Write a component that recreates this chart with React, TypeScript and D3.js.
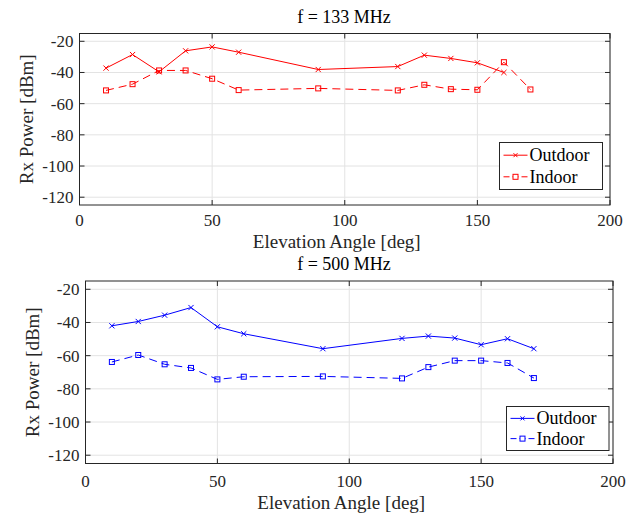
import React, { useEffect, useRef } from "react";
import * as d3 from "d3";

// elevation angles (deg)
const anglesOut133 = [10, 20, 30, 40, 50, 60, 90, 120, 130, 140, 150, 160];
const outdoor133 = [-37.2, -28.5, -39.6, -26.1, -23.6, -27, -38.1, -36.2, -28.9, -31, -33.8, -40];
const anglesIn133 = [10, 20, 30, 40, 50, 60, 90, 120, 130, 140, 150, 160, 170];
const indoor133 = [-51.5, -47.5, -38.7, -38.7, -44, -51.3, -50.2, -51.5, -47.9, -50.7, -51.1, -33.4, -50.9];

const angles500 = [10, 20, 30, 40, 50, 60, 90, 120, 130, 140, 150, 160, 170];
const outdoor500 = [-42, -39.4, -35.6, -31, -42.6, -46.8, -55.8, -49.6, -48.2, -49.4, -53.4, -49.8, -55.8];
const indoor500 = [-63.8, -59.6, -65.2, -67.4, -74.3, -72.7, -72.5, -73.7, -66.9, -63, -63, -64.4, -73.5];

const xTicks = [0, 50, 100, 150, 200];
const yTicks = [-120, -100, -80, -60, -40, -20];
const legendNames = ["Outdoor", "Indoor"];

const FONT = "'Liberation Serif', 'Times New Roman', 'DejaVu Serif', serif";

type Panel = {
  title: string;
  color: string;
  left: number;
  right: number;
  top: number;
  bottom: number;
  tickGap: number;
  labelGap: number;
  outX: number[];
  outY: number[];
  inX: number[];
  inY: number[];
  legend: { x: number; y: number; w: number; h: number };
};

const panels: Panel[] = [
  {
    title: "f = 133 MHz",
    color: "#ff0000",
    left: 79.5,
    right: 610,
    top: 33.5,
    bottom: 205,
    tickGap: 21,
    labelGap: 43,
    outX: anglesOut133,
    outY: outdoor133,
    inX: anglesIn133,
    inY: indoor133,
    legend: { x: 499.5, y: 142.5, w: 103, h: 47 },
  },
  {
    title: "f = 500 MHz",
    color: "#0000ff",
    left: 85.5,
    right: 613,
    top: 281,
    bottom: 463.5,
    tickGap: 23,
    labelGap: 45,
    outX: angles500,
    outY: outdoor500,
    inX: angles500,
    inY: indoor500,
    legend: { x: 506.5, y: 406.5, w: 102.5, h: 44 },
  },
];

export default function App() {
  const svgRef = useRef<SVGSVGElement>(null);

  useEffect(() => {
    const svg = d3.select(svgRef.current);
    svg.selectAll("*").remove();

    svg.append("rect").attr("width", 638).attr("height", 519).attr("fill", "#fff");

    panels.forEach((p) => {
      const x = d3.scaleLinear().domain([0, 200]).range([p.left, p.right]);
      const y = d3.scaleLinear().domain([-125, -15]).range([p.bottom, p.top]);
      const g = svg.append("g").style("font-family", FONT);

      // grid
      g.selectAll(".gx")
        .data(xTicks)
        .join("line")
        .attr("x1", (d) => x(d))
        .attr("x2", (d) => x(d))
        .attr("y1", p.top)
        .attr("y2", p.bottom)
        .attr("stroke", "#e3e3e3");
      g.selectAll(".gy")
        .data(yTicks)
        .join("line")
        .attr("y1", (d) => y(d))
        .attr("y2", (d) => y(d))
        .attr("x1", p.left)
        .attr("x2", p.right)
        .attr("stroke", "#e3e3e3");

      // lines
      const line = d3
        .line<[number, number]>()
        .x((d) => x(d[0]))
        .y((d) => y(d[1]));
      const outPts: [number, number][] = p.outX.map((a, i) => [a, p.outY[i]]);
      const inPts: [number, number][] = p.inX.map((a, i) => [a, p.inY[i]]);

      g.append("path")
        .attr("d", line(outPts))
        .attr("fill", "none")
        .attr("stroke", p.color)
        .attr("stroke-width", 1);
      g.append("path")
        .attr("d", line(inPts))
        .attr("fill", "none")
        .attr("stroke", p.color)
        .attr("stroke-width", 1)
        .attr("stroke-dasharray", "8,5");

      // markers
      const s = 2.6;
      g.selectAll(".mx")
        .data(outPts)
        .join("path")
        .attr("d", (d) => {
          const cx = x(d[0]);
          const cy = y(d[1]);
          return `M${cx - s},${cy - s}L${cx + s},${cy + s}M${cx - s},${cy + s}L${cx + s},${cy - s}`;
        })
        .attr("stroke", p.color)
        .attr("stroke-width", 1);
      g.selectAll(".ms")
        .data(inPts)
        .join("rect")
        .attr("x", (d) => x(d[0]) - 2.5)
        .attr("y", (d) => y(d[1]) - 2.5)
        .attr("width", 5)
        .attr("height", 5)
        .attr("fill", "none")
        .attr("stroke", p.color)
        .attr("stroke-width", 1);

      // box and inner ticks
      const axisColor = "#262626";
      g.append("rect")
        .attr("x", p.left)
        .attr("y", p.top)
        .attr("width", p.right - p.left)
        .attr("height", p.bottom - p.top)
        .attr("fill", "none")
        .attr("stroke", axisColor)
        .attr("stroke-width", 1);
      const tl = 5;
      xTicks.forEach((t) => {
        g.append("line")
          .attr("x1", x(t)).attr("x2", x(t))
          .attr("y1", p.bottom).attr("y2", p.bottom - tl)
          .attr("stroke", axisColor);
        g.append("line")
          .attr("x1", x(t)).attr("x2", x(t))
          .attr("y1", p.top).attr("y2", p.top + tl)
          .attr("stroke", axisColor);
      });
      yTicks.forEach((t) => {
        g.append("line")
          .attr("x1", p.left).attr("x2", p.left + tl)
          .attr("y1", y(t)).attr("y2", y(t))
          .attr("stroke", axisColor);
        g.append("line")
          .attr("x1", p.right).attr("x2", p.right - tl)
          .attr("y1", y(t)).attr("y2", y(t))
          .attr("stroke", axisColor);
      });

      // tick labels
      g.selectAll(".xl")
        .data(xTicks)
        .join("text")
        .attr("x", (d) => x(d))
        .attr("y", p.bottom + p.tickGap)
        .attr("text-anchor", "middle")
        .attr("font-size", 17)
        .attr("fill", "#262626")
        .text((d) => d);
      g.selectAll(".yl")
        .data(yTicks)
        .join("text")
        .attr("x", p.left - 6)
        .attr("y", (d) => y(d) + 6)
        .attr("text-anchor", "end")
        .attr("font-size", 17)
        .attr("fill", "#262626")
        .text((d) => d);

      // title and axis labels
      g.append("text")
        .attr("x", 344)
        .attr("y", p.top - 11)
        .attr("text-anchor", "middle")
        .attr("font-size", 18)
        .attr("fill", "#000")
        .text(p.title);
      g.append("text")
        .attr("x", (p.left + p.right) / 2 - 8)
        .attr("y", p.bottom + p.labelGap)
        .attr("text-anchor", "middle")
        .attr("font-size", 19)
        .attr("fill", "#262626")
        .text("Elevation Angle [deg]");
      g.append("text")
        .attr("transform", `translate(${p.left - 47},${(p.top + p.bottom) / 2}) rotate(-90)`)
        .attr("text-anchor", "middle")
        .attr("font-size", 19)
        .attr("fill", "#262626")
        .text("Rx Power [dBm]");

      // legend
      const L = p.legend;
      g.append("rect")
        .attr("x", L.x)
        .attr("y", L.y)
        .attr("width", L.w)
        .attr("height", L.h)
        .attr("fill", "#fff")
        .attr("stroke", axisColor);
      legendNames.forEach((name, i) => {
        const ly = L.y + L.h * (0.27 + i * 0.46);
        g.append("line")
          .attr("x1", L.x + 4)
          .attr("x2", L.x + 28)
          .attr("y1", ly)
          .attr("y2", ly)
          .attr("stroke", p.color)
          .attr("stroke-dasharray", i === 1 ? "6,3" : null);
        const mx = L.x + 16;
        if (i === 0) {
          g.append("path")
            .attr("d", `M${mx - 2},${ly - 2}L${mx + 2},${ly + 2}M${mx - 2},${ly + 2}L${mx + 2},${ly - 2}`)
            .attr("stroke", p.color);
        } else {
          g.append("rect")
            .attr("x", mx - 2.5)
            .attr("y", ly - 2.5)
            .attr("width", 5)
            .attr("height", 5)
            .attr("fill", "#fff")
            .attr("stroke", p.color);
        }
        g.append("text")
          .attr("x", L.x + 30)
          .attr("y", ly + 6)
          .attr("font-size", 18)
          .attr("fill", "#000")
          .text(name);
      });
    });
  }, []);

  return (
    <div>
      <svg ref={svgRef} width={638} height={519} style={{ position: "absolute", left: 0, top: 0 }}></svg>
    </div>
  );
}
